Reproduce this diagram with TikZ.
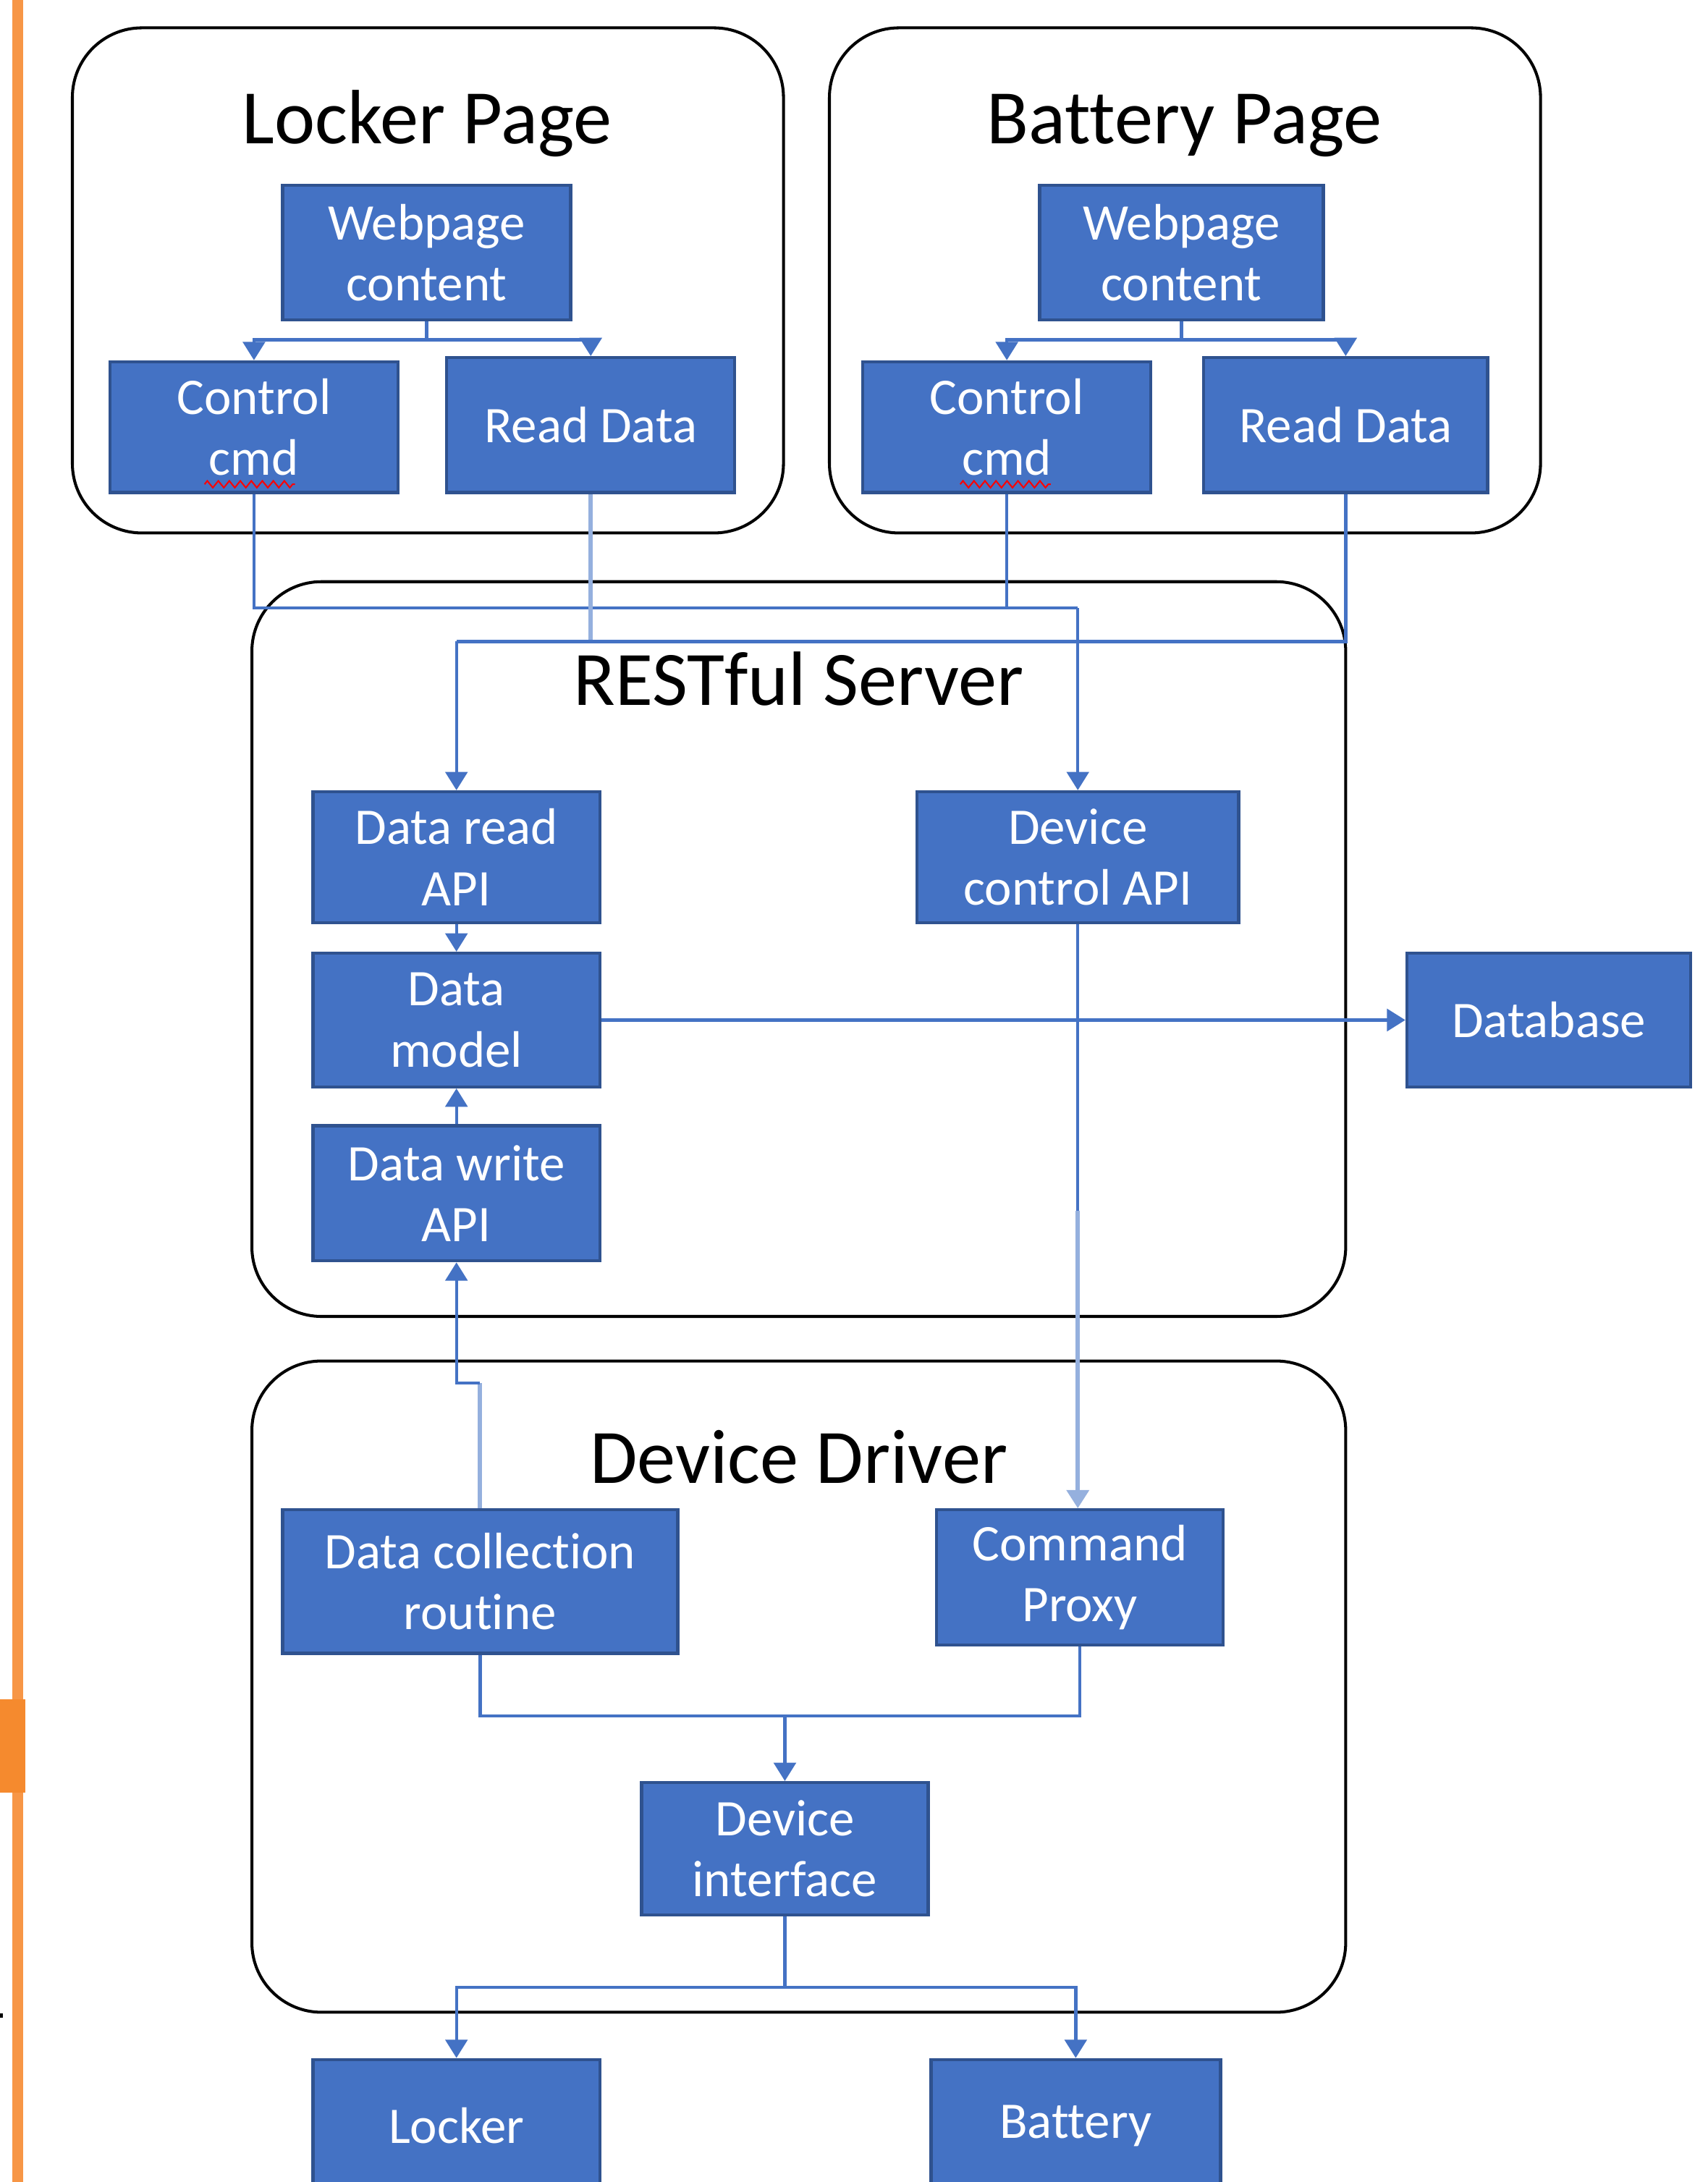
\documentclass[tikz,border=0pt]{standalone}
\usepackage{fontspec}
\setmainfont{Carlito}[Ligatures={NoCommon}]
\usetikzlibrary{arrows.meta,decorations.pathmorphing}
\definecolor{boxfill}{HTML}{4472C4}
\definecolor{boxline}{HTML}{2F528F}
\definecolor{conn}{HTML}{4472C4}
\definecolor{connlight}{HTML}{95B0DE}
\definecolor{orangebar}{HTML}{F79646}
\definecolor{orangeblock}{HTML}{F58A2E}
\newcommand\mybx[6]{%
  \node[blk,minimum width={(#4-#2)*0.02cm},minimum height={(#5-#3)*0.02cm}]
    (#1) at ({(#2+#4)/2},{(#3+#5)/2}) {#6};}
\begin{document}
\begin{tikzpicture}[x=0.02cm,y=-0.02cm,
  blk/.style={draw=boxline,fill=boxfill,line width=1.3pt,text=white,align=center,
    inner sep=0pt,font=\fontsize{21}{25}\selectfont},
  cont/.style={draw=black,line width=1.2pt,rounded corners=1cm},
  ttl/.style={anchor=base,inner sep=0pt,font=\fontsize{31.5}{38}\selectfont},
  cn/.style={draw=conn,line width=1.3pt},
  cnl/.style={draw=connlight,line width=1.8pt},
  arr/.style={-{Triangle[width=9pt,length=7.5pt]}}]
\clip (0,0) rectangle (1227,1568);
\fill[white] (0,0) rectangle (1227,1568);
% left orange bar
\fill[orangebar] (8.8,0) rectangle (16.6,1568);
\fill[orangeblock] (0,1221) rectangle (18,1288);
\fill[black] (0,1447) rectangle (2,1450);
% containers
\draw[cont] (52,20) rectangle (563,383);
\draw[cont] (596,20) rectangle (1107,383);
\draw[cont] (181,418) rectangle (967,946);
\draw[cont] (181,978) rectangle (967,1446);
\node[ttl] (tlp) at (307,103) {Locker Page};
\node[ttl] (tbp) at (851,103) {Battery Page};
\node[ttl] (trs) at (574,507) {RESTful Server};
\node[ttl] (tdd) at (574,1066) {Device Driver};
% boxes
\mybx{lwc}{203}{133}{410}{230}{Webpage\\content}
\mybx{lcc}{79}{260}{286}{354}{Control\\cmd}
\mybx{lrd}{321}{257}{528}{354}{Read Data}
\mybx{bwc}{747}{133}{951}{230}{Webpage\\content}
\mybx{bcc}{620}{260}{827}{354}{Control\\cmd}
\mybx{brd}{865}{257}{1069}{354}{Read Data}
\mybx{dra}{225}{569}{431}{663}{Data read\\API}
\mybx{dca}{659}{569}{890}{663}{Device\\control API}
\mybx{dm}{225}{685}{431}{781}{Data\\model}
\mybx{dwa}{225}{809}{431}{906}{Data write\\API}
\mybx{db}{1011}{685}{1215}{781}{Database}
\mybx{dcr}{203}{1085}{487}{1188}{Data collection\\routine}
\mybx{cp}{673}{1085}{879}{1182}{Command\\Proxy}
\mybx{di}{461}{1281}{667}{1376}{Device\\interface}
\mybx{lk}{225}{1480}{431}{1575}{Locker}
\mybx{bt}{669}{1480}{877}{1575}{Battery}
% spell-check squiggles
\draw[red,line width=0.6pt,decorate,decoration={zigzag,segment length=4.5,amplitude=1.4}]
  (147,348) -- (212,348);
\draw[red,line width=0.6pt,decorate,decoration={zigzag,segment length=4.5,amplitude=1.4}]
  (690,348) -- (755,348);
% page-internal connectors
\draw[cn,arr] (lwc.south) -- ++(0,13) -| (lcc.north);
\draw[cn,arr] (lwc.south) -- ++(0,13) -| (lrd.north);
\draw[cn,arr] (bwc.south) -- ++(0,13) -| (bcc.north);
\draw[cn,arr] (bwc.south) -- ++(0,13) -| (brd.north);
% control commands to device control API
\coordinate (j1) at (dca.north |- 0,437);
\draw[cn] (lcc.south) |- (j1);
\draw[cn] (bcc.south) |- (j1);
\draw[cn,arr] (j1) -- (dca.north);
% read data to data read API
\coordinate (j2) at (dra.north |- 0,461);
\draw[cnl] (lrd.south) -- (lrd.south |- j2);
\draw[cn] (brd.south) |- (j2);
\draw[cn,arr] (j2) -- (dra.north);
% server internals
\draw[cn,arr] (dra.south) -- (dm.north);
\draw[cn,arr] (dwa.north) -- (dm.south);
\draw[cn,arr] (dm.east) -- (db.west);
\draw[cn] (dca.south) -- (dca.south |- 0,870);
\draw[cnl,arr] (dca.south |- 0,870) -- (dca.south |- cp.north);
% data collection to data write API
\draw[cnl] (dcr.north) -- ++(0,-90) coordinate (j5);
\draw[cn,arr] (j5) -| (dwa.south);
% to device interface
\coordinate (j3) at (di.north |- 0,1233);
\draw[cn] (dcr.south) |- (j3);
\draw[cn] (cp.south) |- (j3);
\draw[cn,arr] (j3) -- (di.north);
% to devices
\coordinate (j4) at (di.south |- 0,1428);
\draw[cn] (di.south) -- (j4);
\draw[cn,arr] (j4) -| (lk.north);
\draw[cn,arr] (j4) -| (bt.north);
\end{tikzpicture}
\end{document}
